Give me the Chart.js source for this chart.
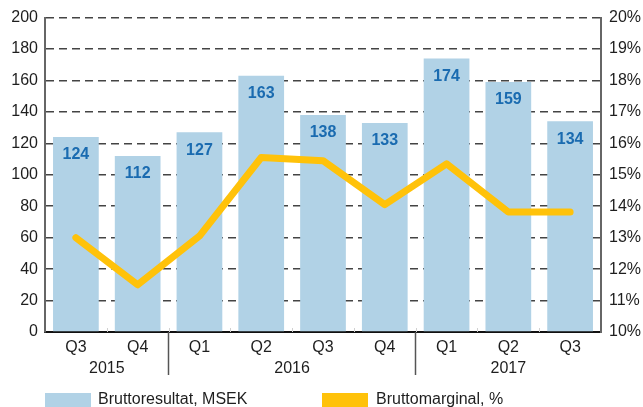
<!DOCTYPE html>
<html>
<head>
<meta charset="utf-8">
<script src="https://cdn.jsdelivr.net/npm/chart.js@4/dist/chart.umd.min.js"></script>
<style>
html,body{margin:0;padding:0;background:#fff;}
#wrap{width:643px;height:407px;overflow:hidden;}
</style>
</head>
<body>
<div id="wrap"><canvas id="c" width="643" height="407"></canvas></div>
<script>
const quarters = ['Q3','Q4','Q1','Q2','Q3','Q4','Q1','Q2','Q3'];
const years = ['2015','2016','2017'];
const yearSpans = [2,4,3];
const grossProfit = [124,112,127,163,138,133,174,159,134];
const grossMargin = [13.0,11.5,13.05,15.55,15.45,14.05,15.35,13.82,13.82];
const seriesNames = ['Bruttoresultat, MSEK','Bruttomarginal, %'];

const FONT = "'Liberation Sans', Arial, sans-serif";
const BAR = '#b1d2e6';
const LINE = '#ffc20a';
const LABEL = '#1a6bb0';
const TEXT = '#1e1e1e';

const extras = {
  id: 'extras',
  afterDatasetsDraw(chart) {
    const ctx = chart.ctx;
    const meta = chart.getDatasetMeta(1);
    ctx.save();
    ctx.font = "bold 16px " + FONT;
    ctx.fillStyle = LABEL;
    ctx.textAlign = 'center';
    ctx.textBaseline = 'middle';
    meta.data.forEach((el, i) => {
      ctx.fillText(String(grossProfit[i]), el.x, el.y + 18);
    });
    ctx.restore();
  },
  afterDraw(chart) {
    const ctx = chart.ctx;
    const xs = chart.scales.x;
    const area = chart.chartArea;
    const n = quarters.length;
    const cw = (area.right - area.left) / n;
    ctx.save();
    // faint tick marks at category boundaries
    ctx.strokeStyle = '#d0d0d0';
    ctx.lineWidth = 1;
    for (let i = 1; i < n; i++) {
      const x = Math.round(xs.getPixelForValue(i) - cw / 2) + 0.5;
      ctx.beginPath();
      ctx.moveTo(x, area.bottom - 4);
      ctx.lineTo(x, area.bottom);
      ctx.stroke();
    }
    // year separators and labels
    let start = 0;
    ctx.font = "16px " + FONT;
    ctx.fillStyle = TEXT;
    ctx.textAlign = 'center';
    ctx.textBaseline = 'middle';
    yearSpans.forEach((span, gi) => {
      const x0 = xs.getPixelForValue(start) - cw / 2;
      const x1 = xs.getPixelForValue(start + span - 1) + cw / 2;
      ctx.fillText(years[gi], (x0 + x1) / 2, 369);
      if (gi > 0) {
        ctx.strokeStyle = '#555';
        ctx.lineWidth = 1.5;
        ctx.beginPath();
        ctx.moveTo(Math.round(x0) - 0.5, area.bottom);
        ctx.lineTo(Math.round(x0) - 0.5, 375);
        ctx.stroke();
      }
      start += span;
    });
    // legend
    ctx.textAlign = 'left';
    ctx.fillStyle = BAR;
    ctx.fillRect(45, 393, 46, 16);
    ctx.fillStyle = LINE;
    ctx.fillRect(322, 393, 46, 16);
    ctx.fillStyle = TEXT;
    ctx.fillText(seriesNames[0], 98, 400);
    ctx.fillText(seriesNames[1], 376, 400);
    ctx.restore();
  }
};

new Chart(document.getElementById('c'), {
  data: {
    labels: quarters,
    datasets: [
      {
        type: 'line',
        label: seriesNames[1],
        data: grossMargin,
        yAxisID: 'y1',
        borderColor: LINE,
        backgroundColor: LINE,
        borderWidth: 7,
        pointRadius: 0,
        tension: 0,
        borderJoinStyle: 'round',
        borderCapStyle: 'round',
        order: 0
      },
      {
        type: 'bar',
        label: seriesNames[0],
        data: grossProfit,
        yAxisID: 'y',
        backgroundColor: BAR,
        borderWidth: 0,
        categoryPercentage: 1,
        barPercentage: 0.74,
        order: 1
      }
    ]
  },
  options: {
    responsive: false,
    animation: false,
    devicePixelRatio: 1,
    layout: { padding: { top: 15, left: 0, right: 0, bottom: 0 } },
    plugins: { legend: { display: false }, tooltip: { enabled: false } },
    scales: {
      x: {
        grid: { display: false, drawTicks: false },
        border: { display: true, color: '#111', width: 2 },
        ticks: { color: TEXT, font: { family: FONT, size: 16 }, padding: 6, maxRotation: 0, autoSkip: false },
        afterFit(s) { s.height = 75; }
      },
      y: {
        position: 'left',
        min: 0, max: 200,
        ticks: { stepSize: 20, color: TEXT, font: { family: FONT, size: 16 }, padding: 7 },
        grid: { color: '#444', lineWidth: 1.5, drawTicks: false },
        border: { display: true, color: '#666', width: 2, dash: [8, 5] },
        afterFit(s) { s.width = 45; }
      },
      y1: {
        position: 'right',
        min: 10, max: 20,
        ticks: { stepSize: 1, color: TEXT, font: { family: FONT, size: 16 }, padding: 8, callback: v => v + '%' },
        grid: { display: false, drawTicks: false },
        border: { display: true, color: '#666', width: 2 },
        afterFit(s) { s.width = 42; }
      }
    }
  },
  plugins: [extras]
});
</script>
</body>
</html>
